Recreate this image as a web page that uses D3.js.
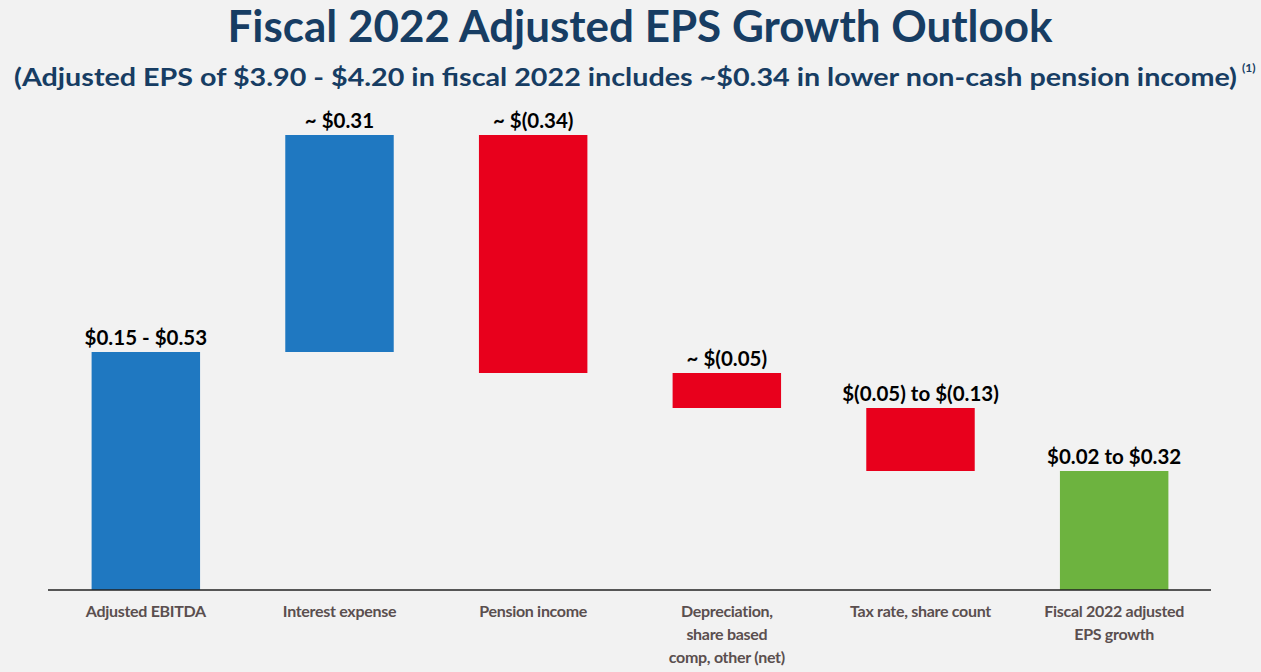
<!DOCTYPE html>
<html>
<head>
<meta charset="utf-8">
<script src="https://cdn.jsdelivr.net/npm/d3@7"></script>
<style>
  html, body { margin: 0; padding: 0; background: #f2f2f2; }
  svg { display: block; }
  text { font-family: "Lato", "Open Sans", sans-serif; font-weight: 700; }
</style>
</head>
<body>
<svg id="chart" width="1261" height="672"></svg>
<script>
// Waterfall steps: category, signed change, label, kind
const categories = [
  "Adjusted EBITDA",
  "Interest expense",
  "Pension income",
  "Depreciation,|share based|comp, other (net)",
  "Tax rate, share count",
  "Fiscal 2022 adjusted|EPS growth"
];
const changes = [0.34, 0.31, -0.34, -0.05, -0.09, 0.17];
const kinds = ["start", "step", "step", "step", "step", "total"];
const valueLabels = [
  "$0.15 - $0.53",
  "~ $0.31",
  "~ $(0.34)",
  "~ $(0.05)",
  "$(0.05) to $(0.13)",
  "$0.02 to $0.32"
];
const yDomain = [0, 0.65];

const W = 1261, H = 672;
const svg = d3.select("#chart");

svg.append("rect").attr("width", W).attr("height", H).attr("fill", "#f2f2f2");

// Running totals -> bar extents
let running = 0;
const bars = categories.map((c, i) => {
  let y0, y1;
  if (kinds[i] === "total") {
    y0 = 0; y1 = changes[i]; running = changes[i];
  } else {
    y0 = running; y1 = running + changes[i]; running = y1;
  }
  const color = kinds[i] === "total" ? "#6db33f" : (changes[i] >= 0 ? "#1f78c1" : "#e8001c");
  return { cat: c, y0, y1, color, label: valueLabels[i], up: changes[i] >= 0 };
});

const x = d3.scaleBand().domain(categories).range([49, 1211]).paddingInner(0.44).paddingOuter(0.22);
const y = d3.scaleLinear().domain(yDomain).range([590, 135]);

// Title and subtitle
svg.append("text")
  .attr("x", 640).attr("y", 42)
  .attr("text-anchor", "middle")
  .attr("fill", "#173d63")
  .attr("font-size", 43)
  .attr("textLength", 825).attr("lengthAdjust", "spacingAndGlyphs")
  .text("Fiscal 2022 Adjusted EPS Growth Outlook");

svg.append("text")
  .attr("x", 14).attr("y", 86)
  .attr("fill", "#173d63")
  .attr("font-size", 25)
  .attr("textLength", 1223).attr("lengthAdjust", "spacingAndGlyphs")
  .text("(Adjusted EPS of $3.90 - $4.20 in fiscal 2022 includes ~$0.34 in lower non-cash pension income)");

// Footnote marker
svg.append("text")
  .attr("x", 1242).attr("y", 72)
  .attr("fill", "#173d63")
  .attr("font-size", 12)
  .text("(1)");

// Bars
svg.append("g").selectAll("rect").data(bars).join("rect")
  .attr("x", d => x(d.cat))
  .attr("width", x.bandwidth())
  .attr("y", d => y(Math.max(d.y0, d.y1)))
  .attr("height", d => Math.abs(y(d.y0) - y(d.y1)))
  .attr("fill", d => d.color);

// Value labels above each bar
svg.append("g").selectAll("text").data(bars).join("text")
  .attr("x", d => x(d.cat) + x.bandwidth() / 2)
  .attr("y", d => y(Math.max(d.y0, d.y1)) - 7)
  .attr("text-anchor", "middle")
  .attr("fill", "#000")
  .attr("font-size", 20.5)
  .text(d => d.label);

// Baseline axis
const axis = svg.append("g").attr("transform", `translate(0,${y(0)})`)
  .call(d3.axisBottom(x).tickSize(0).tickFormat(""));
axis.select(".domain").attr("stroke", "#222").attr("stroke-width", 1.5)
  .attr("d", "M48,0H1211");

// Category labels, wrapped on "|"
const catG = svg.append("g");
categories.forEach(c => {
  const t = catG.append("text")
    .attr("x", x(c) + x.bandwidth() / 2)
    .attr("y", 617)
    .attr("text-anchor", "middle")
    .attr("fill", "#5a4f4f")
    .attr("font-size", 16)
    .attr("letter-spacing", -0.3);
  c.split("|").forEach((line, j) => {
    t.append("tspan")
      .attr("x", x(c) + x.bandwidth() / 2)
      .attr("dy", j === 0 ? 0 : 23)
      .text(line);
  });
});
</script>
</body>
</html>
